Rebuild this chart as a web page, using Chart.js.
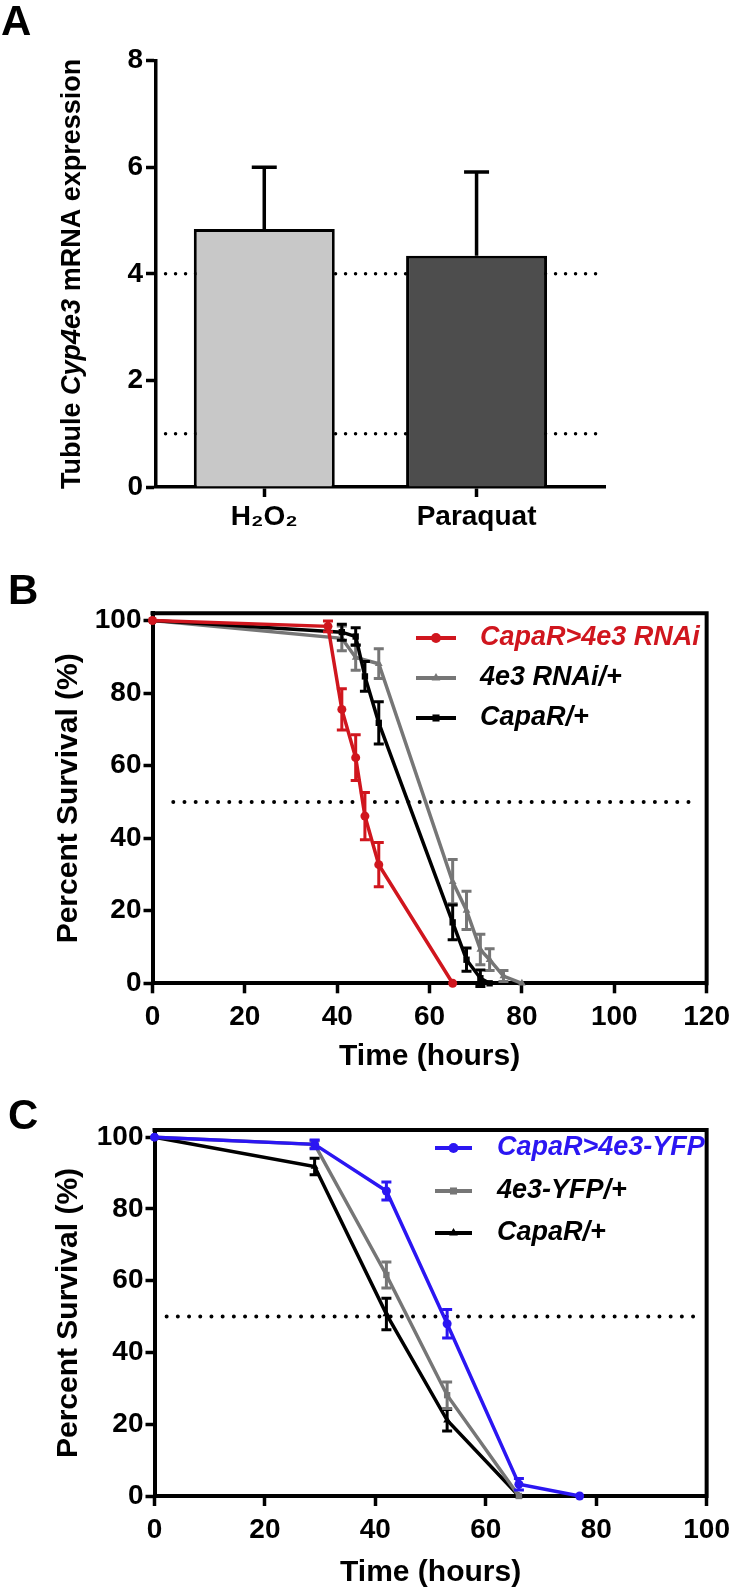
<!DOCTYPE html>
<html>
<head>
<meta charset="utf-8">
<script src="https://cdn.jsdelivr.net/npm/chart.js@4.4.1/dist/chart.umd.min.js"></script>
<style>
    body { margin: 0; background: #fff; }
    #page { position: relative; width: 737px; height: 1588px; overflow: hidden; background: #fff; }
    canvas { position: absolute; left: 0; }
    .letter { position: absolute; font: bold 42px "Liberation Sans", Arial, sans-serif; line-height: 1; color: #000; }
</style>
</head>
<body>
<div id="page">
    <canvas id="chart-a" width="737" height="540" style="top:0"></canvas>
    <canvas id="chart-b" width="737" height="540" style="top:540px"></canvas>
    <canvas id="chart-c" width="737" height="508" style="top:1080px"></canvas>
    <div class="letter" style="left:1px;top:0">A</div>
    <div class="letter" style="left:8px;top:569px">B</div>
    <div class="letter" style="left:8px;top:1094px">C</div>
</div>
<script>
// Panel A: tubule Cyp4e3 expression
const exprCategories = ['H₂O₂', 'Paraquat'];
const exprMeans = [4.84, 4.34];
const exprSem = [1.16, 1.57];
const exprGuides = [1, 4];
const exprTicks = [0, 2, 4, 6, 8];

// Panel B: survival with Cyp4e3 knockdown
const bTimeTicks = [0, 20, 40, 60, 80, 100, 120];
const bKnockTime = [0, 38, 41, 44, 46, 49, 65];
const bKnockSurvival = [100, 98.4, 75.5, 62.2, 46.1, 32.7, 0];
const bKnockSem = [0, 1.5, 5.7, 6.3, 6.5, 6.1, 0];
const bRnaiTime = [0, 41, 44, 49, 65, 68, 71, 73, 76, 80];
const bRnaiSurvival = [100, 95.1, 89.8, 88.1, 28, 20.1, 9.3, 6.5, 2, 0];
const bRnaiSem = [0, 3.4, 3.5, 4.1, 6.1, 5.3, 4.2, 3, 1.5, 0];
const bDriverTime = [0, 41, 44, 46, 49, 65, 68, 71, 73];
const bDriverSurvival = [100, 96.8, 95.6, 84.6, 71.8, 16.8, 6.5, 1.4, 0];
const bDriverSem = [0, 2.2, 2.4, 4.1, 5.8, 4.8, 3.2, 2.3, 0];

// Panel C: survival with Cyp4e3 over-expression
const cTimeTicks = [0, 20, 40, 60, 80, 100];
const cOverTime = [0, 29, 42, 53, 66, 77];
const cOverSurvival = [100, 98, 85, 48, 3.3, 0];
const cOverSem = [0, 1.2, 2.5, 4, 1.6, 0];
const cYfpTime = [0, 29, 42, 53, 66];
const cYfpSurvival = [100, 98, 61.6, 28.1, 0];
const cYfpSem = [0, 1, 3.6, 3.7, 0];
const cDriverTime = [0, 29, 42, 53, 66];
const cDriverSurvival = [100, 91.8, 50.7, 21.1, 0];
const cDriverSem = [0, 2.3, 4.4, 3, 0];

const survivalTicks = [0, 20, 40, 60, 80, 100];
const survivalMax = 102;
const medianSurvival = 50;

const FONT = '"Liberation Sans", Arial, sans-serif';
const RED = '#d0161e';
const GRAY = '#767676';
const BLUE = '#2b16f2';

Chart.defaults.font.family = FONT;
Chart.defaults.color = '#000';
Chart.defaults.animation = false;

const tickFont = { family: FONT, size: 28, weight: 'bold' };
const titleFont = { family: FONT, size: 30, weight: 'bold', lineHeight: 1 };

// Error bars drawn per dataset so they stack with their line
const errorBarPlugin = {
    id: 'errorBars',
    afterDatasetDraw(chart, args) {
        const ds = chart.data.datasets[args.index];
        if (!ds.errorBars) return;
        const yScale = chart.scales[args.meta.yAxisID];
        const ctx = chart.ctx;
        ctx.save();
        ctx.strokeStyle = ds.errorColor || ds.borderColor;
        ctx.lineWidth = ds.errorWidth || 3;
        ctx.lineCap = 'butt';
        args.meta.data.forEach((el, i) => {
            const err = ds.errorBars[i];
            if (!err) return;
            const v = ds.data[i].y;
            const top = yScale.getPixelForValue(v + err);
            const bottom = ds.errorUpOnly ? el.y : yScale.getPixelForValue(v - err);
            const half = ds.errorCap / 2;
            ctx.beginPath();
            ctx.moveTo(el.x, top);
            ctx.lineTo(el.x, bottom);
            ctx.moveTo(el.x - half, top);
            ctx.lineTo(el.x + half, top);
            if (!ds.errorUpOnly) {
                ctx.moveTo(el.x - half, bottom);
                ctx.lineTo(el.x + half, bottom);
            }
            ctx.stroke();
        });
        ctx.restore();
    }
};

// top and right sides of the box in panels B and C
const framePlugin = {
    id: 'frame',
    beforeDatasetsDraw(chart, args, opts) {
        if (!opts.show) return;
        const { left, right, top, bottom } = chart.chartArea;
        const ctx = chart.ctx;
        ctx.save();
        ctx.strokeStyle = '#000';
        ctx.lineWidth = opts.width;
        ctx.beginPath();
        ctx.moveTo(left - opts.width / 2, top);
        ctx.lineTo(right, top);
        ctx.lineTo(right, bottom + opts.width / 2);
        ctx.stroke();
        ctx.restore();
    }
};

function drawMarker(ctx, style, x, y, r, color) {
    ctx.fillStyle = color;
    ctx.beginPath();
    if (style === 'circle') {
        ctx.arc(x, y, r, 0, Math.PI * 2);
    } else if (style === 'rect') {
        const s = r / Math.SQRT2;
        ctx.rect(x - s, y - s, 2 * s, 2 * s);
    } else {
        ctx.moveTo(x, y - r);
        ctx.lineTo(x + r * 0.87, y + r * 0.5);
        ctx.lineTo(x - r * 0.87, y + r * 0.5);
        ctx.closePath();
    }
    ctx.fill();
}

const insetLegendPlugin = {
    id: 'insetLegend',
    afterDraw(chart, args, opts) {
        if (!opts.rows) return;
        const ctx = chart.ctx;
        ctx.save();
        let row = 0;
        chart.data.datasets.forEach(ds => {
            if (!ds.label) return;
            const y = opts.rows[row++];
            ctx.strokeStyle = ds.borderColor;
            ctx.lineWidth = 4;
            ctx.beginPath();
            ctx.moveTo(opts.x0, y);
            ctx.lineTo(opts.x1, y);
            ctx.stroke();
            drawMarker(ctx, ds.pointStyle, (opts.x0 + opts.x1) / 2, y, 5, ds.borderColor);
            ctx.font = 'italic bold 27px ' + FONT;
            ctx.fillStyle = ds.labelColor;
            ctx.textAlign = 'left';
            ctx.textBaseline = 'middle';
            ctx.fillText(ds.label, opts.textX, y);
        });
        ctx.restore();
    }
};

// y title with an italic gene name inside it
const mixedTitlePlugin = {
    id: 'mixedTitle',
    afterDraw(chart, args, opts) {
        if (!opts.parts) return;
        const ctx = chart.ctx;
        const cy = (chart.chartArea.top + chart.chartArea.bottom) / 2;
        ctx.save();
        ctx.translate(opts.x, cy);
        ctx.rotate(-Math.PI / 2);
        ctx.textBaseline = 'middle';
        ctx.textAlign = 'left';
        ctx.fillStyle = '#000';
        let total = 0;
        const parts = opts.parts.map(p => {
            ctx.font = p.font;
            const w = ctx.measureText(p.text).width;
            total += w;
            return { text: p.text, font: p.font, w };
        });
        let x = -total / 2;
        parts.forEach(p => {
            ctx.font = p.font;
            ctx.fillText(p.text, x, 0);
            x += p.w;
        });
        ctx.restore();
    }
};

Chart.register(errorBarPlugin, framePlugin, insetLegendPlugin, mixedTitlePlugin);

function axisGrid(len) {
    return { display: true, drawOnChartArea: false, drawTicks: true, tickLength: len, tickWidth: 3.5, tickColor: '#000', offset: false };
}

// ---------- Panel A ----------
const aLeft = 156, aRight = 605, aTop = 60.7, aBottom = 487, aHeight = 540;
const barMin = -0.51, barMax = 1.605;

new Chart(document.getElementById('chart-a'), {
    type: 'bar',
    data: {
        datasets: [
            {
                type: 'bar',
                data: exprCategories.map((c, i) => ({ x: i, y: exprMeans[i] })),
                backgroundColor: ['#c8c8c8', '#4d4d4d'],
                borderColor: '#000',
                borderWidth: 3,
                barPercentage: 0.664,
                categoryPercentage: 1,
                errorBars: exprSem,
                errorUpOnly: true,
                errorCap: 25,
                errorWidth: 3.5,
                order: 1
            },
            ...exprGuides.map(v => ({
                type: 'line',
                data: [{ x: -0.465, y: v }, { x: barMax, y: v }],
                borderColor: '#000',
                borderWidth: 3.5,
                borderDash: [0, 10],
                borderCapStyle: 'round',
                pointRadius: 0,
                order: 2
            }))
        ]
    },
    options: {
        responsive: false,
        events: [],
        layout: { padding: { left: 0, top: aTop, right: 737 - aRight, bottom: 0 } },
        plugins: {
            legend: { display: false },
            tooltip: { enabled: false },
            mixedTitle: {
                x: 72.5,
                parts: [
                    { text: 'Tubule ', font: 'bold 27px ' + FONT },
                    { text: 'Cyp4e3', font: 'italic bold 27px ' + FONT },
                    { text: ' mRNA expression', font: 'bold 27px ' + FONT }
                ]
            }
        },
        scales: {
            x: {
                type: 'linear',
                min: barMin,
                max: barMax,
                offset: false,
                afterBuildTicks: s => { s.ticks = exprCategories.map((c, i) => ({ value: i })); },
                afterFit: s => { s.height = aHeight - aBottom; },
                ticks: { font: tickFont, color: '#000', padding: 3, maxRotation: 0, autoSkip: false,
                    callback: v => exprCategories[v] },
                grid: axisGrid(10),
                border: { color: '#000', width: 3.5 }
            },
            y: {
                min: 0,
                max: 8,
                afterBuildTicks: s => { s.ticks = exprTicks.map(v => ({ value: v })); },
                afterFit: s => { s.width = aLeft; },
                ticks: { font: tickFont, color: '#000', padding: 3 },
                grid: axisGrid(10),
                border: { color: '#000', width: 3.5 }
            }
        }
    }
});

// ---------- Panels B and C ----------
function survivalSet(label, time, survival, sem, color, marker, order) {
    return {
        type: 'line',
        label,
        labelColor: color === GRAY ? '#000' : color,
        data: time.map((t, i) => ({ x: t, y: survival[i] })),
        borderColor: color,
        backgroundColor: color,
        borderWidth: 3.5,
        pointStyle: marker,
        pointRadius: 4.5,
        pointBorderWidth: 0,
        tension: 0,
        clip: false,
        errorBars: sem,
        errorCap: 10,
        errorWidth: 3,
        order
    };
}

function medianSet(x0, x1) {
    return {
        type: 'line',
        data: [{ x: x0, y: medianSurvival }, { x: x1, y: medianSurvival }],
        borderColor: '#000',
        borderWidth: 4,
        borderDash: [0, 11.2],
        borderCapStyle: 'round',
        pointRadius: 0,
        order: 5
    };
}

function survivalChart(id, box, timeTicks, datasets, legend) {
    const xMax = timeTicks[timeTicks.length - 1];
    return new Chart(document.getElementById(id), {
        type: 'line',
        data: { datasets },
        options: {
            responsive: false,
            events: [],
            layout: { padding: { left: 0, top: box.top, right: 737 - box.right, bottom: box.padBottom } },
            plugins: {
                legend: { display: false },
                tooltip: { enabled: false },
                frame: { show: true, width: 4 },
                insetLegend: legend
            },
            scales: {
                x: {
                    type: 'linear',
                    min: 0,
                    max: xMax,
                    afterBuildTicks: s => { s.ticks = timeTicks.map(v => ({ value: v })); },
                    afterFit: s => { s.height = box.height - box.padBottom - box.bottom; },
                    ticks: { font: tickFont, color: '#000', padding: 7, maxRotation: 0, autoSkip: false },
                    grid: axisGrid(10),
                    border: { color: '#000', width: 4 },
                    title: { display: true, text: 'Time (hours)', font: titleFont, color: '#000', padding: 0 }
                },
                y: {
                    min: 0,
                    max: survivalMax,
                    afterBuildTicks: s => { s.ticks = survivalTicks.map(v => ({ value: v })); },
                    afterFit: s => { s.width = box.left; },
                    ticks: { font: tickFont, color: '#000', padding: 2 },
                    grid: axisGrid(9),
                    border: { color: '#000', width: 4 },
                    title: { display: true, text: 'Percent Survival (%)', font: titleFont, color: '#000',
                        padding: { top: 54, bottom: 0 } }
                }
            }
        }
    });
}

survivalChart('chart-b',
    { left: 152.5, right: 709, top: 73.3, bottom: 443.3, height: 540, padBottom: 8 },
    bTimeTicks,
    [
        survivalSet('CapaR>4e3 RNAi', bKnockTime, bKnockSurvival, bKnockSem, RED, 'circle', 0),
        survivalSet('4e3 RNAi/+', bRnaiTime, bRnaiSurvival, bRnaiSem, GRAY, 'triangle', 2),
        survivalSet('CapaR/+', bDriverTime, bDriverSurvival, bDriverSem, '#000', 'rect', 1),
        medianSet(4.5, 118)
    ],
    { rows: [98, 138, 178], x0: 416, x1: 456, textX: 480 }
);

survivalChart('chart-c',
    { left: 154.5, right: 710, top: 50, bottom: 416, height: 508, padBottom: 0 },
    cTimeTicks,
    [
        survivalSet('CapaR>4e3-YFP', cOverTime, cOverSurvival, cOverSem, BLUE, 'circle', 0),
        survivalSet('4e3-YFP/+', cYfpTime, cYfpSurvival, cYfpSem, GRAY, 'rect', 1),
        survivalSet('CapaR/+', cDriverTime, cDriverSurvival, cDriverSem, '#000', 'triangle', 2),
        medianSet(2.2, 98.7)
    ],
    { rows: [68, 111, 153], x0: 435, x1: 472, textX: 497 }
);
</script>
</body>
</html>
